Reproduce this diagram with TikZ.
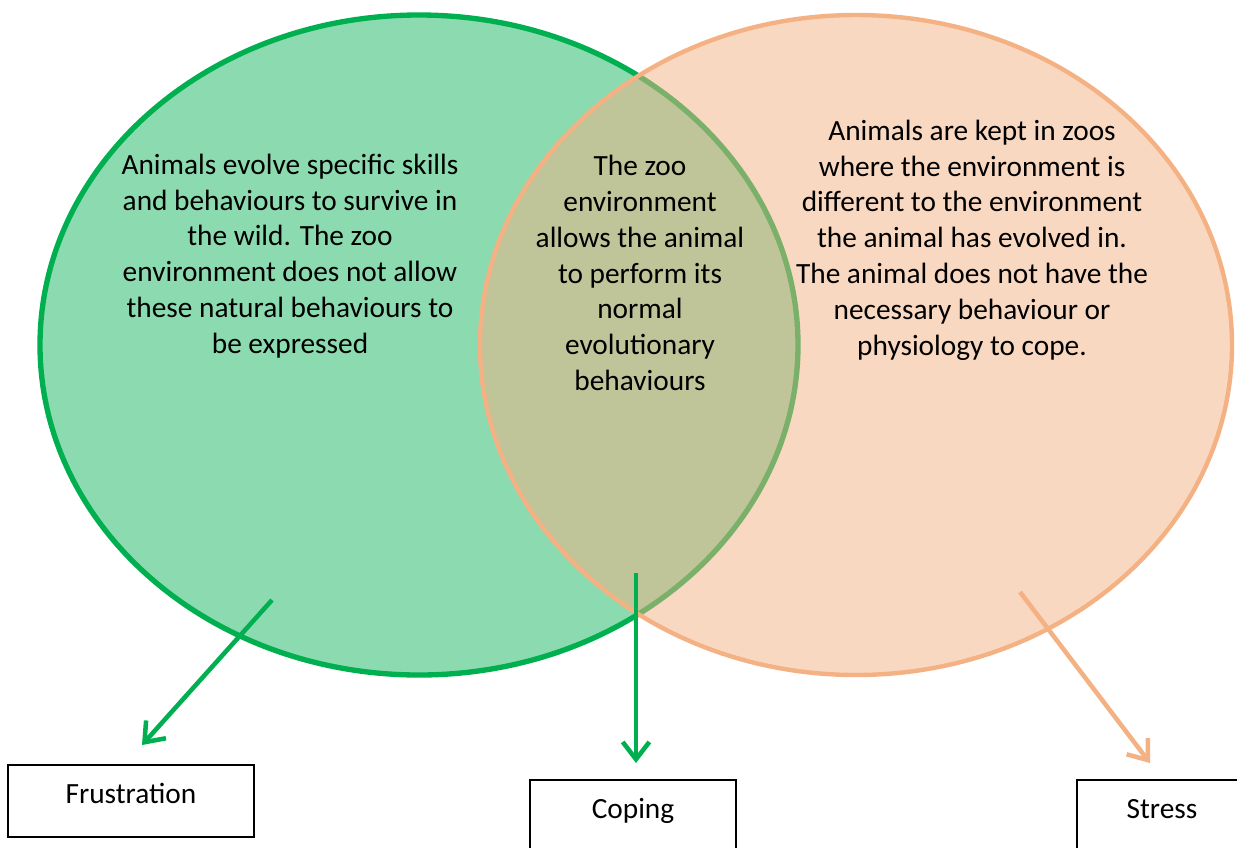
\documentclass[tikz,border=0pt]{standalone}
\usepackage{fontspec}
\setmainfont{Carlito}
\usetikzlibrary{shapes.geometric, positioning, arrows.meta}

\definecolor{wildgreen}{HTML}{00B050}
\definecolor{zooorange}{HTML}{F4B183}

\begin{document}
\begin{tikzpicture}[
	x=0.75pt, y=-0.75pt,
	SetCfg/.style={
		ellipse, inner sep=0pt
	},
	TextCfg/.style={
		align=center, font=\fontsize{22}{26.85}\selectfont
	},
	BoxCfg/.style={
		draw, line width=1.5pt, minimum height=54pt,
		text height=14pt, text depth=10pt,
		font=\fontsize{22}{26.85}\selectfont
	},
	ArrowCfg/.style={
		line width=3.4pt, -{Straight Barb[length=13pt, width=20pt]}
	}
	]
	
	\useasboundingbox (0,0) rectangle (1237,847);
	
	% the two sets
	\path
	(419,345) node [SetCfg, fill=wildgreen!45, draw=wildgreen, line width=4pt,
		minimum width=568.5pt, minimum height=495pt] (WILD) {}
	(856,345) node [SetCfg, fill=zooorange, fill opacity=0.5, draw=zooorange,
		draw opacity=1, line width=3.3pt,
		minimum width=564pt, minimum height=495pt] (ZOO) {};
	
	\path
	(290,256) node [TextCfg] (TxtWild) {Animals evolve specific skills\\
		and behaviours to survive in\\ the wild. The zoo\\
		environment does not allow\\ these natural behaviours to\\ be expressed}
	(640,273) node [TextCfg] (TxtBoth) {The zoo\\ environment\\ allows the animal\\
		to perform its\\ normal\\ evolutionary\\ behaviours}
	(972,240) node [TextCfg] (TxtZoo) {Animals are kept in zoos\\
		where the environment is\\ different to the environment\\
		the animal has evolved in.\\ The animal does not have the\\
		necessary behaviour or\\ physiology to cope.};
	
	% outcomes
	\path
	(131,801) node [BoxCfg, minimum width=184.5pt] (FRUS) {Frustration}
	(633,816) node [BoxCfg, minimum width=154.5pt] (COPE) {Coping}
	(1162,816) node [BoxCfg, minimum width=127.5pt] (STRESS) {Stress};
	
	\coordinate (FrusFrom) at (272,600);
	\coordinate (FrusTo) at (142,745);
	\coordinate (CopeFrom) at (636,573);
	\coordinate (CopeTo) at (636,763);
	\coordinate (StressFrom) at (1020,592);
	\coordinate (StressTo) at (1150,763);
	
	\draw [ArrowCfg, wildgreen] (FrusFrom) -- (FrusTo);
	\draw [ArrowCfg, wildgreen] (CopeFrom) -- (CopeTo);
	\draw [ArrowCfg, zooorange] (StressFrom) -- (StressTo);
\end{tikzpicture}
\end{document}
